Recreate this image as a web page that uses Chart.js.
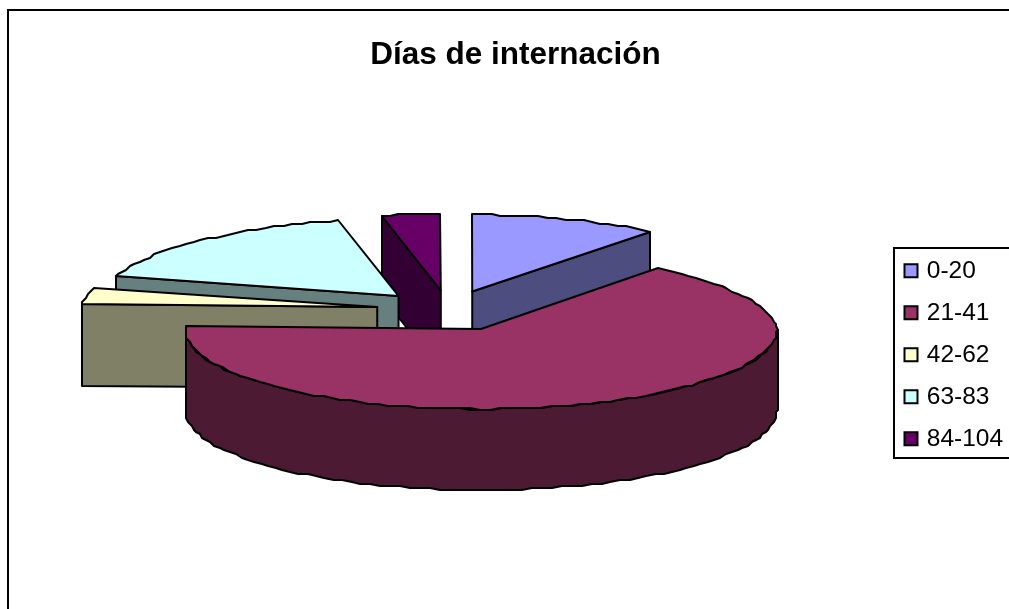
<!DOCTYPE html>
<html lang="es">
<head>
<meta charset="utf-8">
<title>Días de internación</title>
<script src="https://cdn.jsdelivr.net/npm/chart.js@4"></script>
<style>
  html, body { margin: 0; background: #fff; }
  canvas { display: block; }
</style>
</head>
<body>
<canvas id="chart" width="1009" height="609"></canvas>
<script>
const chartTitle = "Días de internación";
const categories = ["0-20", "21-41", "42-62", "63-83", "84-104"];
const values = [10.7, 64.9, 3.4, 17.6, 3.4];
const topColors = ["#9999FF", "#993366", "#FFFFCC", "#CCFFFF", "#660066"];
const wallColors = ["#4D4D80", "#4D1A33", "#808066", "#668080", "#330033"];

const fontFamily = '"Liberation Sans", Arial, sans-serif';
const pieRadius = 296;
const explode = [72, 78, 72, 72, 72];
const squash = 80 / 296;
const depth = 81;
const backNarrow = 0.05;
const backFlat = 0.96;
const rimStep = Math.PI / 90;

// pie en perspectiva: las porciones se dibujan desde los arcos que calcula Chart.js
const pie3d = {
  id: "pie3d",
  beforeDraw(chart) {
    const ctx = chart.ctx;
    ctx.save();
    ctx.strokeStyle = "#000";
    ctx.lineWidth = 2;
    ctx.beginPath();
    ctx.moveTo(8, 609);
    ctx.lineTo(8, 10);
    ctx.lineTo(1009, 10);
    ctx.stroke();
    ctx.strokeRect(894, 248, 130, 210);
    ctx.restore();
  },
  afterLayout(chart) {
    chart.legend.left = 890;
    chart.legend.top = 241;
    chart.titleBlock.left = 22;
  },
  beforeDatasetsDraw(chart) {
    const ctx = chart.ctx;
    const arcs = chart.getDatasetMeta(0).data.map((arc, i) => ({ arc, i }));
    arcs.sort((a, b) => Math.sin((a.arc.startAngle + a.arc.endAngle) / 2) - Math.sin((b.arc.startAngle + b.arc.endAngle) / 2));

    ctx.save();
    ctx.lineWidth = 2;
    ctx.lineJoin = "round";
    ctx.strokeStyle = "#000";
    arcs.forEach(({ arc, i }) => {
      const { startAngle: a0, endAngle: a1, outerRadius: rx } = arc;
      const ry = rx * squash;
      const mid = (a0 + a1) / 2;
      const cx = arc.x + Math.cos(mid) * arc.options.offset;
      const cy = arc.y + Math.sin(mid) * arc.options.offset * squash;

      // el borde de Excel sale escalonado, por eso se redondea a 2 px
      const rim = (a, dy = 0) => {
        const s = Math.sin(a);
        const x = cx + Math.cos(a) * rx * (1 + backNarrow * Math.min(s, 0));
        const y = cy + s * ry * (s < 0 ? backFlat : 1) + dy;
        return [Math.round(x / 2) * 2, Math.round(y / 2) * 2];
      };
      const rimPath = (from, to, dy = 0) => {
        const n = Math.max(1, Math.ceil(Math.abs(to - from) / rimStep));
        for (let k = 0; k <= n; k++) {
          ctx.lineTo(...rim(from + ((to - from) * k) / n, dy));
        }
      };
      const paint = () => {
        ctx.closePath();
        ctx.fill();
        ctx.stroke();
      };

      ctx.fillStyle = wallColors[i];
      const wall = (a) => {
        ctx.beginPath();
        ctx.moveTo(cx, cy);
        ctx.lineTo(...rim(a));
        ctx.lineTo(...rim(a, depth));
        ctx.lineTo(cx, cy + depth);
        paint();
      };
      if (Math.cos(a0) < 0) wall(a0);
      if (Math.cos(a1) > 0) wall(a1);

      // pared exterior: solo la parte del borde que mira al frente
      const from = Math.max(a0, 0);
      const to = Math.min(a1, Math.PI);
      if (to > from) {
        ctx.beginPath();
        rimPath(from, to);
        rimPath(to, from, depth);
        paint();
      }

      ctx.fillStyle = arc.options.backgroundColor;
      ctx.beginPath();
      ctx.moveTo(cx, cy);
      rimPath(a0, a1);
      paint();
    });
    ctx.restore();
    return false;
  },
};

new Chart(document.getElementById("chart"), {
  type: "pie",
  data: {
    labels: categories,
    datasets: [
      {
        data: values,
        backgroundColor: topColors,
        borderColor: "#000",
        borderWidth: 2,
        offset: explode,
      },
    ],
  },
  options: {
    responsive: false,
    animation: false,
    radius: pieRadius,
    layout: { padding: { left: 11, right: 0, top: 0, bottom: 73 } },
    plugins: {
      title: {
        display: true,
        text: chartTitle,
        color: "#000",
        font: { family: fontFamily, size: 31.5, weight: "bold" },
        padding: { top: 36, bottom: 10 },
      },
      legend: {
        position: "right",
        align: "start",
        labels: {
          color: "#000",
          font: { family: fontFamily, size: 24.5 },
          usePointStyle: true,
          pointStyle: "rect",
          boxWidth: 7,
          boxHeight: 13,
          padding: 17.5,
        },
      },
      tooltip: { enabled: false },
    },
  },
  plugins: [pie3d],
});
</script>
</body>
</html>
